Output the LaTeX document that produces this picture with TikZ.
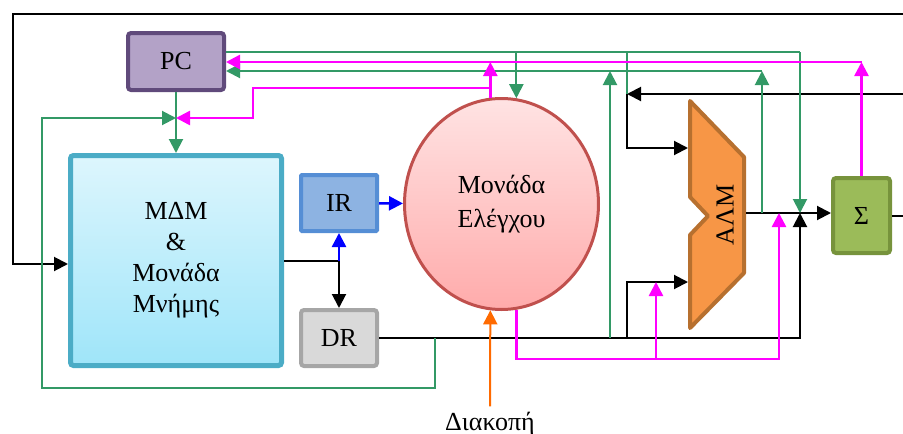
\documentclass[tikz,border=0pt]{standalone}
\usepackage{fontspec}
\setmainfont{Liberation Serif}
\usetikzlibrary{arrows.meta,shapes.geometric}
\definecolor{pcfill}{HTML}{B3A2C7}
\definecolor{pcline}{HTML}{604A7B}
\definecolor{memtop}{HTML}{DDF6FD}
\definecolor{membot}{HTML}{9FE5F9}
\definecolor{memline}{HTML}{4BACC6}
\definecolor{irfill}{HTML}{8DB3E2}
\definecolor{irline}{HTML}{558ED5}
\definecolor{drfill}{HTML}{D9D9D9}
\definecolor{drline}{HTML}{A6A6A6}
\definecolor{cutop}{HTML}{FFE3E3}
\definecolor{cubot}{HTML}{FFABAB}
\definecolor{culine}{HTML}{C0504D}
\definecolor{alufill}{HTML}{F79646}
\definecolor{aluline}{HTML}{B7702F}
\definecolor{sumfill}{HTML}{9BBB59}
\definecolor{sumline}{HTML}{77933C}
\definecolor{busgreen}{HTML}{339966}
\definecolor{busmagenta}{HTML}{FF00FF}
\definecolor{busblue}{HTML}{0000FF}
\definecolor{intorange}{HTML}{FF6A00}

\begin{document}
\begin{tikzpicture}[x=1pt,y=-1pt,
                    >={Triangle[length=14pt,width=14pt]},
                    every node/.style={font=\fontsize{26}{31}\selectfont},
                    reg/.style={draw,rounded corners=3pt,line width=4pt,
                                inner sep=0pt,align=center},
                    blk/.style={line width=2pt,black},
                    grn/.style={line width=2pt,busgreen},
                    mag/.style={line width=2.5pt,busmagenta},
                    blu/.style={line width=2.5pt,busblue},
                    org/.style={line width=2pt,intorange}]
\useasboundingbox (0,0) rectangle (903,434);

% units
\node[reg,fill=pcfill,draw=pcline,minimum width=96pt,minimum height=57pt]
      (pc)  at (176,61.5)  {PC};
\node[reg,top color=memtop,bottom color=membot,draw=memline,line width=5pt,
      minimum width=211pt,minimum height=210pt]
      (mdm) at (176,260.5) {ΜΔΜ\\\&\\Μονάδα\\Μνήμης};
\node[reg,rounded corners=1pt,fill=irfill,draw=irline,
      minimum width=76pt,minimum height=56pt]
      (ir)  at (339,203)   {IR};
\node[reg,fill=drfill,draw=drline,minimum width=76pt,minimum height=56pt]
      (dr)  at (339,338)   {DR};
\node[ellipse,draw=culine,line width=3pt,top color=cutop,bottom color=cubot,
      minimum width=194pt,minimum height=211pt,inner sep=0pt,align=center]
      (ctrl) at (501.5,204) {Μονάδα\\[3pt]Ελέγχου};
\draw[fill=alufill,draw=aluline,line width=4pt,line join=round]
      (690,101) -- (744,157) -- (744,273) -- (690,328) -- (690,235)
      -- (708,216) -- (690,197) -- cycle;
\node[rotate=90] (alu) at (725,215) {ΑΛΜ};
\node[reg,fill=sumfill,draw=sumline,minimum width=57pt,minimum height=75pt]
      (sum) at (861.5,215.5) {Σ};
\node[anchor=base,inner sep=5pt] (intr) at (490,430) {Διακοπή};

% junctions
\coordinate (topR)  at (903,14);
\coordinate (loopL) at (13,264);
\coordinate (bus)   at (339,261);
\coordinate (rightIn) at (903,94);
\coordinate (fbTop) at (627,94);
\coordinate (aluA)  at (688,148);
\coordinate (aluB)  at (688,282);
\coordinate (aluO)  at (746,213);
\coordinate (join)  at (800,213);
\coordinate (pcj)   at (176,118);
\coordinate (gl)    at (435,388);
\coordinate (glL)   at (42,388);
\coordinate (gT)    at (800,52);
\coordinate (gR)    at (762,71);
\coordinate (gU)    at (610,71);
\coordinate (mT)    at (862,62);
\coordinate (mL)    at (253,88);
\coordinate (mB)    at (779,359);
\coordinate (mA)    at (656,359);

% black data paths
\draw[blk,->] (topR) -| (loopL) -- (loopL -| mdm.west);
\draw[blk] (mdm.east |- bus) -- (bus);
\draw[blk,->] (bus) -- (dr.north);
\draw[blu,->] (bus) -- (ir.south);
\draw[blu,->] (ir) -- (ctrl);
\draw[blk,->] (dr.east) -| (join);
\draw[blk,->] (rightIn) -- (fbTop);
\draw[blk,->] (fbTop) |- (aluA);
\draw[blk,->] (fbTop |- dr.east) |- (aluB);
\draw[blk,->] (aluO) -- (aluO -| sum.west);
\draw[blk] (sum.east) -- (sum.east -| topR);

% green control lines
\draw[grn,->] (pc) -- (mdm);
\draw[grn,->] (gl |- dr.east) |- (glL) |- (pcj);
\draw[grn] (pc.east |- gT) -- (gT);
\draw[grn,->] (gT) -- (join);
\draw[grn,->] (gT -| ctrl.82) -- (ctrl.82);
\draw[grn] (gT -| fbTop) -- (fbTop);
\draw[grn,->] (gR) -- (pc.east |- gR);
\draw[grn,->] (aluO -| gR) -- (gR);
\draw[grn,->] (gU |- dr.east) -- (gU);

% magenta control lines
\draw[mag,->] (mT) -- (pc.east |- mT);
\draw[mag,->] (sum.north) -- (sum.north |- mT);
\draw[mag,->] (ctrl.96) -- (ctrl.96 |- mT);
\draw[mag,->] (ctrl.96 |- mL) -- (mL) |- (pcj);
\draw[mag,->] (ctrl.-82) |- (mB) -- (mB |- join);
\draw[mag,->] (mA) -- (mA |- aluB);

% interrupt
\draw[org,->] (intr.north) -- (ctrl.-96);
\end{tikzpicture}
\end{document}
